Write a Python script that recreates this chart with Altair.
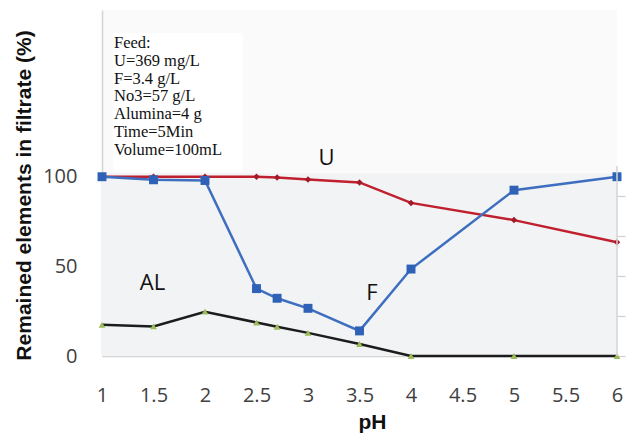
import altair as alt
import pandas as pd

# pH values sampled
ph = [1, 1.5, 2, 2.5, 2.7, 3, 3.5, 4, 5, 6]

# Remained fraction in filtrate (%) for each element
u_vals = [100, 100, 100, 100, 99.6, 98.5, 96.8, 85.4, 75.8, 63.5]
f_vals = [100, 98.3, 97.9, 37.6, 32.2, 26.6, 14.0, 48.5, 92.5, 100]
al_vals = [17.4, 16.5, 24.7, 18.7, 16.3, 12.9, 6.7, 0, 0, 0]

x_ticks = [1, 1.5, 2, 2.5, 3, 3.5, 4, 4.5, 5, 5.5, 6]
y_ticks = [0, 50, 100]

feed_lines = [
    "Feed:",
    "U=369 mg/L",
    "F=3.4 g/L",
    "No3=57 g/L",
    "Alumina=4 g",
    "Time=5Min",
    "Volume=100mL",
]

# series name labels placed next to the curves (pH, value)
series_labels = ["U", "F", "AL"]
label_ph = [3.18, 3.62, 1.49]
label_val = [110.5, 35.0, 40.5]

W, H = 515, 346
Y_MAX = 193

df = pd.DataFrame({"pH": ph, "U": u_vals, "F": f_vals, "AL": al_vals})
labels_df = pd.DataFrame({"name": series_labels, "pH": label_ph, "v": label_val})

x_scale = alt.Scale(domain=[1, 6], nice=False, zero=False)
y_scale = alt.Scale(domain=[0, Y_MAX], nice=False)

x_enc = alt.X(
    "pH:Q",
    scale=x_scale,
    axis=alt.Axis(
        values=x_ticks,
        format=".1~f",
        title="pH",
        titleFont="Liberation Sans",
        titleFontSize=21,
        titleFontWeight="bold",
        titleColor="#111",
        titleX=270,
        titleY=72,
        titleBaseline="alphabetic",
        labelFont="Open Sans",
        labelFontSize=20,
        labelColor="#404040",
        labelPadding=29,
        ticks=False,
        grid=False,
        domainColor="#d4d4d4",
        domainWidth=1.5,
        labelFlush=False,
    ),
)


def y_enc(field):
    return alt.Y(
        f"{field}:Q",
        scale=y_scale,
        axis=alt.Axis(
            values=y_ticks,
            title="Remained elements in filtrate (%)",
            titleFont="Liberation Sans",
            titleFontSize=21,
            titleFontWeight="bold",
            titleColor="#111",
            titleX=-68,
            titleY=185,
            labelFont="Open Sans",
            labelFontSize=20,
            labelColor="#404040",
            labelPadding=25,
            ticks=False,
            grid=False,
            domainColor="#d4d4d4",
            domainWidth=1.5,
        ),
    )


base = alt.Chart(df)

# light panel behind the curves
panel = alt.Chart(pd.DataFrame({"a": [0]})).mark_rect(color="#f1f3f5").encode(
    x=alt.X("x1:Q", scale=x_scale),
    x2="x2:Q",
    y=alt.Y("y1:Q", scale=y_scale),
    y2="y2:Q",
).transform_calculate(x1="1", x2="6", y1="0", y2="102")

u_line = base.mark_line(color="#c0202d", strokeWidth=2.5).encode(x=x_enc, y=y_enc("U"))
u_pts = base.mark_point(shape="diamond", filled=True, color="#a31a2a", size=42, opacity=1).encode(
    x="pH:Q", y="U:Q"
)

al_line = base.mark_line(color="#1c1c1c", strokeWidth=2.5).encode(x="pH:Q", y="AL:Q")
al_pts = base.mark_point(shape="triangle-up", filled=True, color="#9bbb59", size=45, opacity=1).encode(
    x="pH:Q", y="AL:Q"
)

f_line = base.mark_line(color="#3d6ebf", strokeWidth=2.5).encode(x="pH:Q", y="F:Q")
f_pts = base.mark_point(shape="square", filled=True, color="#2f62b6", size=80, opacity=1).encode(
    x="pH:Q", y="F:Q"
)

name_text = alt.Chart(labels_df).mark_text(
    font="Open Sans", fontSize=22, color="#111", align="center", baseline="middle"
).encode(x="pH:Q", y="v:Q", text="name:N")

# feed conditions box
box = alt.Chart(pd.DataFrame({"a": [0]})).mark_rect(color="white").encode(
    x=alt.value(11), x2=alt.value(141), y=alt.value(23), y2=alt.value(162)
)
feed_text = alt.Chart(pd.DataFrame({"a": [0]})).mark_text(
    font="Liberation Serif",
    fontSize=16.5,
    lineHeight=17.8,
    align="left",
    baseline="alphabetic",
    color="#111",
).encode(x=alt.value(12), y=alt.value(38), text=alt.value(feed_lines))

left = alt.layer(panel, u_line, u_pts, al_line, al_pts, f_line, f_pts, name_text, box, feed_text)

# secondary frame on the right
right_frame = alt.Chart(pd.DataFrame({"a": [0]})).mark_rule(color="#d4d4d4", strokeWidth=1.5).encode(
    x=alt.value(W),
    y=alt.Y(
        datum=0,
        scale=alt.Scale(domain=[0, 173], nice=False),
        axis=alt.Axis(
            orient="right",
            values=[0, 20, 40, 60, 80],
            labels=False,
            domain=False,
            grid=False,
            title=None,
            tickSize=8,
            tickColor="#cfcfcf",
            tickWidth=1.2,
        ),
    ),
    y2=alt.datum(95),
)

chart = (
    alt.layer(left, right_frame)
    .resolve_scale(y="independent")
    .properties(
        width=W,
        height=H,
        autosize=alt.AutoSizeParams(type="none"),
        padding={"left": 102, "top": 10, "right": 10, "bottom": 78},
        background="white",
    )
    .configure_view(stroke=None, fill="#fafafa")
)

chart.save("out.html", embed_options={"renderer": "svg", "actions": False})
